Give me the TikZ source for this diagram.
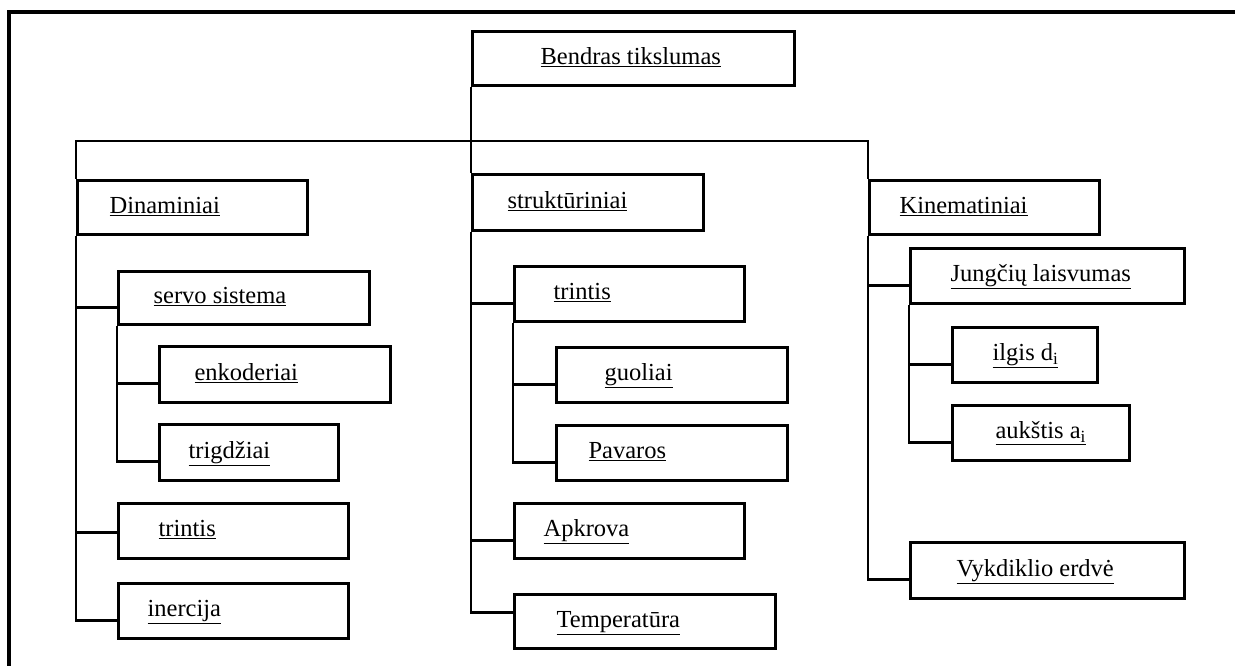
\documentclass[tikz,border=0pt]{standalone}
\usepackage{fontspec}
\setmainfont{Liberation Serif}
\usepackage{tikz}
\tikzset{
  blk/.style={draw, line width=3.2pt, inner sep=0pt, anchor=north west},
  lnk/.style={line width=2.8pt},
}
% box: name, x, y, width, height, text offset, text
\newcommand{\blk}[7]{%
  \node[blk, minimum width=#4, minimum height=#5] (#1) at (#2,#3)
    {\makebox[#4pt][l]{\hspace*{#6pt}\underline{#7}\strut}};}

\begin{document}
\begin{tikzpicture}[x=1pt,y=-1pt,font=\fontsize{24.5}{29}\selectfont]
  \useasboundingbox (0,0) rectangle (1235,666);
  % frame
  \draw[line width=3.2pt] (9,690) |- (1260,12);

  % top
  \blk{bendras}{471}{30}{322}{54}{68}{Bendras tikslumas}
  \blk{dinam}{76}{179}{230}{54}{32}{Dinaminiai}
  \blk{strukt}{471}{173}{231}{56}{35}{strukt\={u}riniai}
  \blk{kinem}{868}{179}{230}{54}{30}{Kinematiniai}
  \coordinate (bus) at (471,141);
  \draw[lnk] (bendras.south west) -- (strukt.north west);
  \draw[lnk] (dinam.north west) |- (bus) -| (kinem.north west);

  % Dinaminiai
  \blk{servo}{117}{270}{251}{53}{35}{servo sistema}
  \blk{enkod}{158}{345}{231}{56}{35}{enkoderiai}
  \blk{trigd}{158}{423}{179}{56}{29}{trigd\v{z}iai}
  \blk{trintisD}{117}{502}{230}{55}{40}{trintis}
  \blk{inercija}{117}{582}{230}{55}{29}{inercija}
  \foreach \c/\s in {servo/-9pt, trintisD/-1.5pt, inercija/-9pt}
    \draw[lnk] ([yshift=\s]\c.west) -| (dinam.south west);
  \foreach \c in {enkod, trigd}
    \draw[lnk] ([yshift=-9pt]\c.west) -| (servo.south west);

  % strukturiniai
  \blk{trintisS}{513}{265}{230}{55}{39}{trintis}
  \blk{guoliai}{555}{346}{231}{55}{48}{guoliai}
  \blk{pavaros}{555}{424}{231}{55}{32}{Pavaros}
  \blk{apkrova}{513}{502}{230}{55}{29}{Apkrova}
  \blk{temper}{513}{593}{261}{54}{42}{Temperat\={u}ra}
  \foreach \c/\s in {trintisS/-9pt, apkrova/-9pt, temper/9pt}
    \draw[lnk] ([yshift=\s]\c.west) -| (strukt.south west);
  \foreach \c in {guoliai, pavaros}
    \draw[lnk] ([yshift=-9pt]\c.west) -| (trintisS.south west);

  % Kinematiniai
  \blk{jungciu}{909}{247}{274}{55}{40}{Jung\v{c}i\k{u} laisvumas}
  \blk{ilgis}{951}{326}{145}{55}{40}{ilgis d\textsubscript{i}}
  \blk{aukstis}{951}{404}{177}{55}{43}{auk\v{s}tis a\textsubscript{i}}
  \blk{vykd}{909}{541}{274}{56}{46}{Vykdiklio erdv\.{e}}
  \foreach \c in {jungciu, vykd}
    \draw[lnk] ([yshift=-9pt]\c.west) -| (kinem.south west);
  \foreach \c in {ilgis, aukstis}
    \draw[lnk] ([yshift=-9pt]\c.west) -| (jungciu.south west);
\end{tikzpicture}
\end{document}
